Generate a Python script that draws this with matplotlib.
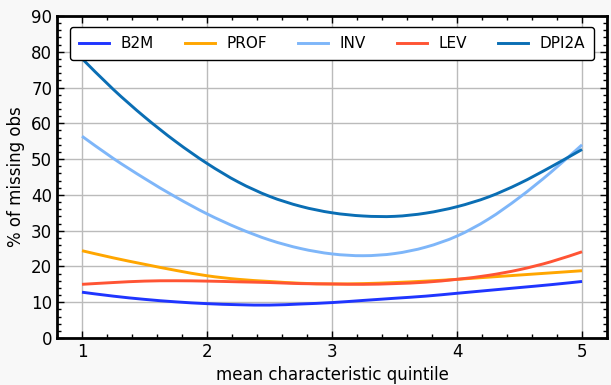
import numpy as np
import matplotlib
matplotlib.use("Agg")
import matplotlib.pyplot as plt
from matplotlib.path import Path
from matplotlib.patches import PathPatch
from matplotlib.lines import Line2D
from matplotlib.ticker import MultipleLocator

# values at quarter-quintile steps
quintile = [1.0, 1.25, 1.5, 1.75, 2.0, 2.25, 2.5, 2.75, 3.0, 3.25, 3.5, 3.75, 4.0, 4.25, 4.5, 4.75, 5.0]
b2m = [12.8, 11.7, 10.8, 10.1, 9.6, 9.3, 9.2, 9.5, 9.9, 10.5, 11.1, 11.7, 12.5, 13.3, 14.1, 14.9, 15.8]
prof = [24.4, 22.4, 20.6, 18.9, 17.4, 16.4, 15.8, 15.3, 15.1, 15.2, 15.5, 15.9, 16.4, 17.0, 17.6, 18.2, 18.8]
inv = [56.4, 50.2, 44.6, 39.4, 34.7, 30.7, 27.4, 25.0, 23.5, 23.0, 23.6, 25.4, 28.5, 33.2, 39.3, 46.3, 54.0]
lev = [15.0, 15.5, 15.9, 16.0, 15.9, 15.7, 15.5, 15.2, 15.1, 15.0, 15.2, 15.6, 16.4, 17.5, 19.1, 21.3, 24.1]
dpi2a = [78.1, 69.5, 61.8, 54.9, 48.8, 43.6, 39.6, 36.8, 35.0, 34.1, 34.0, 34.9, 36.7, 39.4, 43.2, 47.8, 52.7]

series = ["B2M", "PROF", "INV", "LEV", "DPI2A"]
colors = ["#1f35ff", "#ffa600", "#7eb6f9", "#ff5434", "#0a6eb4"]


def smooth_path(x, y):
    # draw the read points as one smooth bezier path (catmull-rom tangents)
    x = np.asarray(x, float)
    y = np.asarray(y, float)
    verts = [(x[0], y[0])]
    codes = [Path.MOVETO]
    n = len(x)
    for i in range(n - 1):
        i0 = max(i - 1, 0)
        i3 = min(i + 2, n - 1)
        c1 = (x[i] + (x[i + 1] - x[i0]) / 6, y[i] + (y[i + 1] - y[i0]) / 6)
        c2 = (x[i + 1] - (x[i3] - x[i]) / 6, y[i + 1] - (y[i3] - y[i]) / 6)
        verts += [c1, c2, (x[i + 1], y[i + 1])]
        codes += [Path.CURVE4] * 3
    return Path(verts, codes)


plt.rcParams["font.family"] = "DejaVu Sans"
fig = plt.figure(figsize=(6.11, 3.85), dpi=100, facecolor="#f8f8f8")
ax = fig.add_axes([0.0933, 0.1221, 0.9002, 0.8363])
ax.set_facecolor("white")

handles = []
for name, vals, c in zip(series, [b2m, prof, inv, lev, dpi2a], colors):
    ax.add_patch(PathPatch(smooth_path(quintile, vals), facecolor="none",
                           edgecolor=c, lw=2.1, capstyle="butt", zorder=2))
    handles.append(Line2D([], [], color=c, lw=2.1, label=name))

ax.set_xlim(0.8, 5.2)
ax.set_ylim(0, 90)
ax.xaxis.set_major_locator(MultipleLocator(1))
ax.xaxis.set_minor_locator(MultipleLocator(0.2))
ax.yaxis.set_major_locator(MultipleLocator(10))
ax.yaxis.set_minor_locator(MultipleLocator(2))
ax.tick_params(which="both", direction="in", top=True, right=True, labelsize=12)
ax.tick_params(which="major", length=5, width=1)
ax.tick_params(which="minor", length=3, width=1)
ax.grid(True, which="major", color="#bbbbbb", lw=1)
ax.set_axisbelow(True)
for s in ax.spines.values():
    s.set_linewidth(2)

ax.set_xlabel("mean characteristic quintile", fontsize=12)
ax.set_ylabel("% of missing obs", fontsize=12)

leg = ax.legend(handles=handles, loc="upper center", ncol=5, fontsize=11, frameon=True,
                fancybox=True, edgecolor="black", framealpha=1, borderaxespad=0,
                bbox_to_anchor=(0.5, 0.966), columnspacing=2.0, handletextpad=0.75,
                borderpad=0.6)
leg.get_frame().set_linewidth(1)

fig.savefig("out.png", dpi=100, facecolor=fig.get_facecolor())
